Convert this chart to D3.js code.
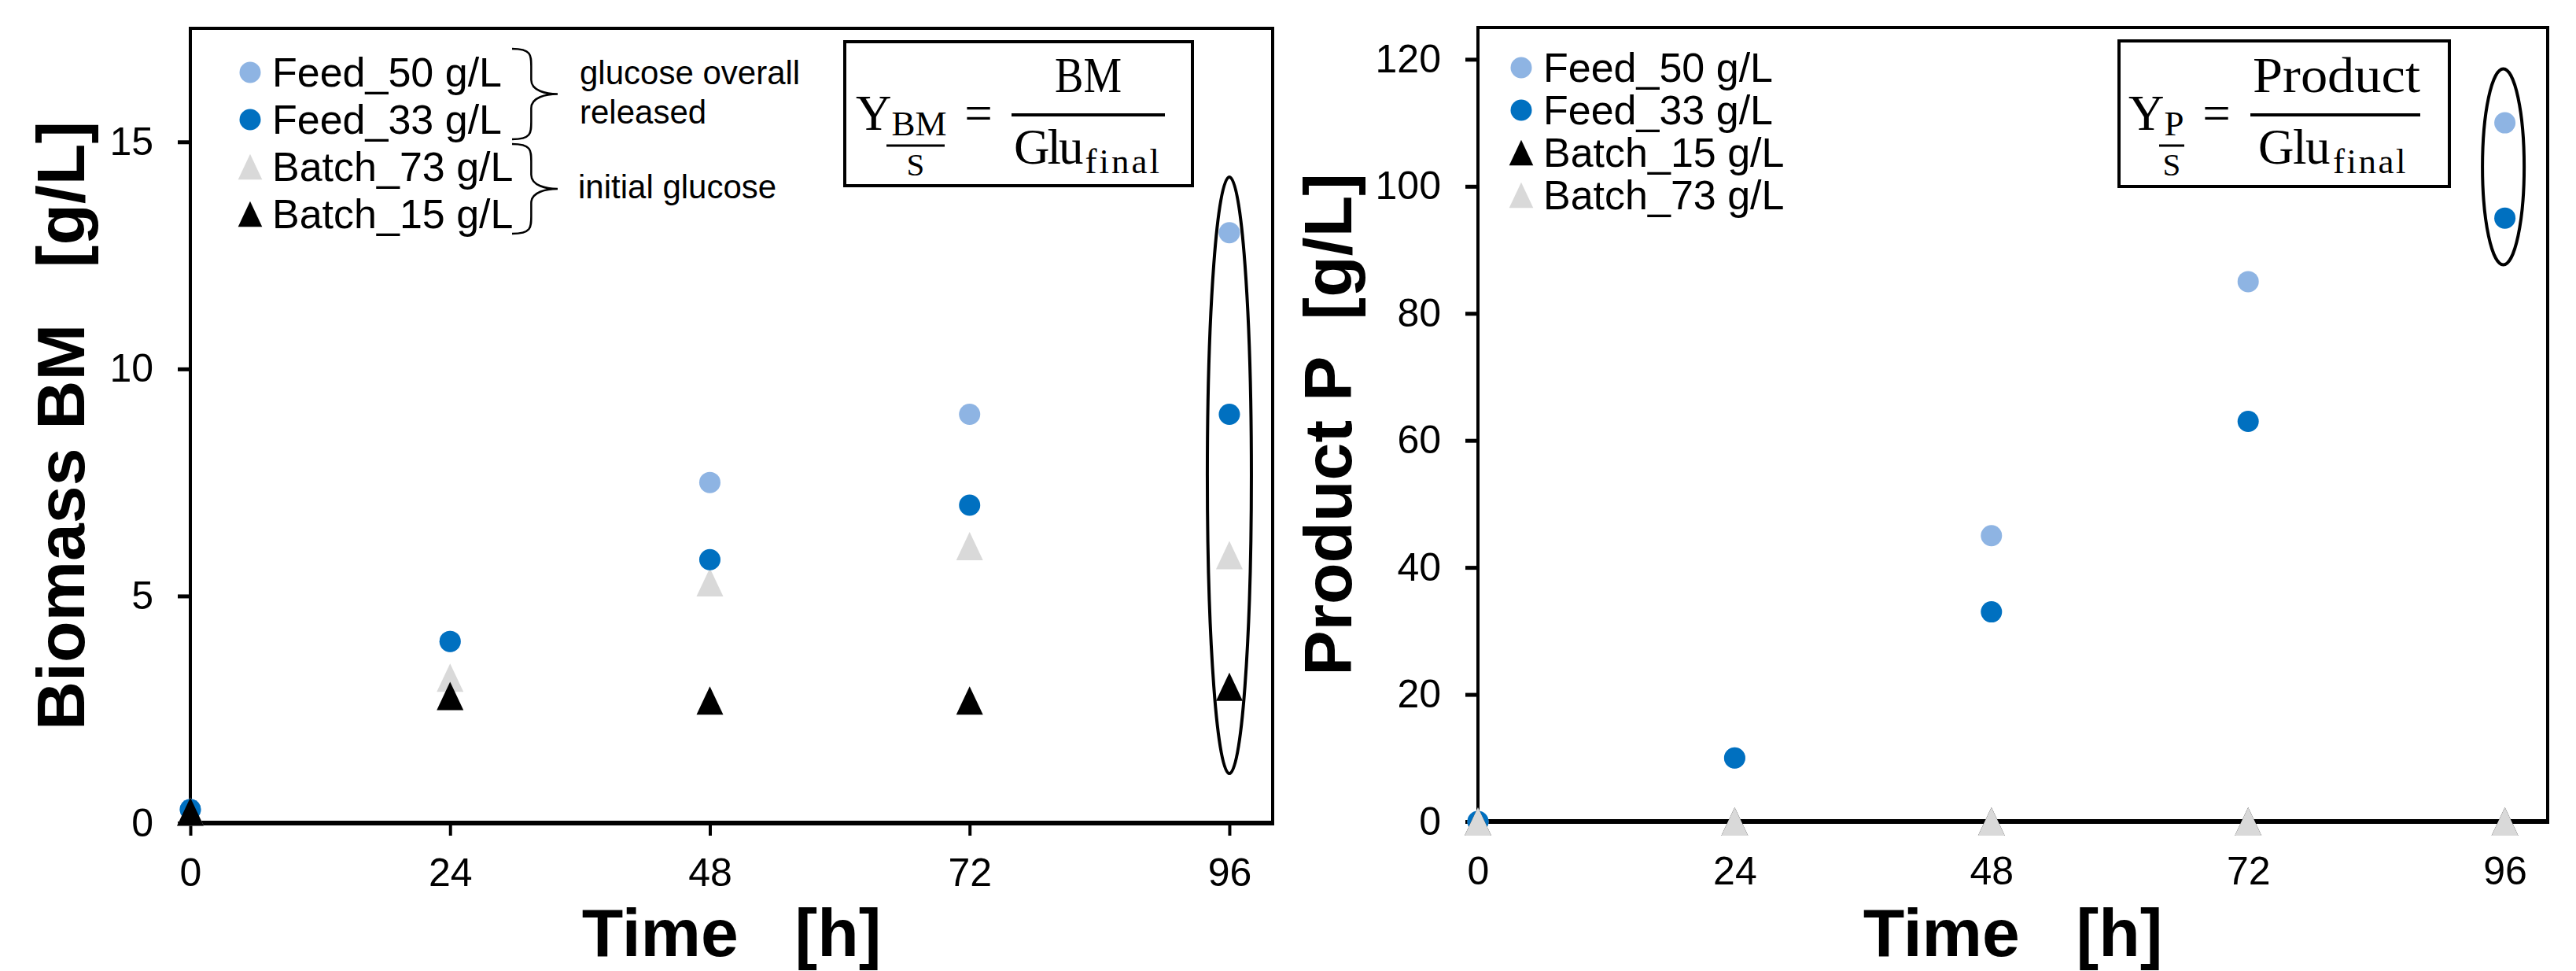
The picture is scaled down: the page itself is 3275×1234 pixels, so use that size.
<!DOCTYPE html>
<html lang="en">
<head>
  <meta charset="UTF-8">
  <title>Biomass and Product over Time</title>
  <script src="https://d3js.org/d3.v7.min.js"></script>
  <style>
    body { margin: 0; background: #fff; }
    text { font-family: Arial, "Liberation Sans", sans-serif; fill: #000; }
    .formula text { font-family: "Liberation Serif", "Times New Roman", serif; }
  </style>
</head>
<body>
<div id="chart"></div>
<script>

// sampling times [h]
var times = [0, 24, 48, 72, 96];

// biomass BM [g/L]
var bmFeed50  = [0.3, 4.0, 7.5, 9.0, 13.0];
var bmFeed33  = [0.3, 4.0, 5.8, 7.0, 9.0];
var bmBatch73 = [0.25, 3.2, 5.3, 6.1, 5.9];
var bmBatch15 = [0.25, 2.8, 2.7, 2.7, 3.0];

// product P [g/L]
var pFeed50  = [0, 10, 45, 85, 110];
var pFeed33  = [0, 10, 33, 63, 95];
var pBatch15 = [0, 0, 0, 0, 0];
var pBatch73 = [0, 0, 0, 0, 0];

// tick labels
var xTicks  = [0, 24, 48, 72, 96];
var bmTicks = [0, 5, 10, 15];
var pTicks  = [0, 20, 40, 60, 80, 100, 120];

// legend order per panel
var bmLegend = ["Feed_50 g/L", "Feed_33 g/L", "Batch_73 g/L", "Batch_15 g/L"];
var pLegend  = ["Feed_50 g/L", "Feed_33 g/L", "Batch_15 g/L", "Batch_73 g/L"];

// marker look per series
var look = {
  "Feed_50 g/L":  { color: "#8EB4E3", shape: "circle" },
  "Feed_33 g/L":  { color: "#0070C0", shape: "circle" },
  "Batch_73 g/L": { color: "#D9D9D9", shape: "triangle" },
  "Batch_15 g/L": { color: "#000000", shape: "triangle" }
};

var svg = d3.select("#chart")
  .append("svg")
    .attr("width", 3275)
    .attr("height", 1234);

function addMarker(g, name, cx, cy, s) {
  s = s || 1;
  var l = look[name];
  if (l.shape === "circle") {
    g.append("circle")
      .attr("cx", cx).attr("cy", cy).attr("r", 13.5 * s)
      .attr("fill", l.color);
  } else {
    g.append("path")
      .attr("d", "M0,-18L17,18L-17,18Z")
      .attr("transform", "translate(" + cx + "," + cy + ") scale(" + s + ")")
      .attr("fill", l.color);
  }
}

function panel(p) {
  var x = d3.scaleLinear().domain([0, 100]).range([p.left, p.left + p.width]);
  var y = d3.scaleLinear().domain([0, p.yMax]).range([p.top + p.height, p.top]);
  var g = svg.append("g");

  // y axis
  var ya = g.append("g")
    .attr("transform", "translate(" + p.left + ",0)")
    .call(d3.axisLeft(y).tickValues(p.yTicks).tickSize(16).tickSizeOuter(0).tickPadding(31));
  ya.select(".domain").remove();
  ya.selectAll("line").attr("stroke", "#000").attr("stroke-width", 5);
  ya.selectAll("text").attr("font-size", 50).attr("font-family", "Arial, 'Liberation Sans', sans-serif");

  // x axis
  var xa = g.append("g")
    .attr("transform", "translate(0," + (p.top + p.height) + ")")
    .call(d3.axisBottom(x).tickValues(xTicks).tickSize(16).tickSizeOuter(0).tickPadding(28));
  xa.select(".domain").remove();
  xa.selectAll("line").attr("stroke", "#000").attr("stroke-width", 4);
  xa.selectAll("text").attr("font-size", 50).attr("font-family", "Arial, 'Liberation Sans', sans-serif");

  // frame
  g.append("rect")
    .attr("x", p.left).attr("y", p.top)
    .attr("width", p.width).attr("height", p.height)
    .attr("fill", "none").attr("stroke", "#000").attr("stroke-width", 4);
  g.append("line")
    .attr("x1", p.left - 2).attr("x2", p.left + p.width + 2)
    .attr("y1", p.top + p.height).attr("y2", p.top + p.height)
    .attr("stroke", "#000").attr("stroke-width", 6);

  // titles
  g.append("text")
    .attr("x", p.left + p.width / 2).attr("y", 1215)
    .attr("text-anchor", "middle")
    .attr("font-size", 86).attr("font-weight", "bold")
    .style("white-space", "pre")
    .text("Time   [h]");
  g.append("text")
    .attr("transform", "translate(" + p.yTitleX + "," + (p.top + p.height / 2) + ") rotate(-90)")
    .attr("text-anchor", "middle")
    .attr("font-size", 86).attr("font-weight", "bold")
    .style("white-space", "pre")
    .text(p.yTitle);

  // points
  p.series.forEach(function (s) {
    times.forEach(function (t, i) {
      addMarker(g, s.name, x(t), y(s.values[i]));
    });
  });

  // legend
  p.legend.forEach(function (name, i) {
    var cy = p.legendTop + i * p.legendStep;
    addMarker(g, name, p.legendX, cy, look[name].shape === "triangle" ? 0.9 : 1);
    g.append("text")
      .attr("x", p.legendX + 28).attr("y", cy + 18)
      .attr("font-size", 52)
      .text(name);
  });

  return { g: g, x: x, y: y };
}

var left = panel({
  left: 242, top: 36, width: 1376, height: 1010,
  yMax: 17.5, yTicks: bmTicks,
  yTitle: "Biomass BM   [g/L]", yTitleX: 107,
  series: [
    { name: "Feed_50 g/L",  values: bmFeed50 },
    { name: "Batch_73 g/L", values: bmBatch73 },
    { name: "Feed_33 g/L",  values: bmFeed33 },
    { name: "Batch_15 g/L", values: bmBatch15 }
  ],
  legend: bmLegend, legendX: 318, legendTop: 92, legendStep: 60
});

var right = panel({
  left: 1879, top: 35, width: 1360, height: 1009,
  yMax: 125, yTicks: pTicks,
  yTitle: "Product P  [g/L]", yTitleX: 1718,
  series: [
    { name: "Feed_50 g/L",  values: pFeed50 },
    { name: "Feed_33 g/L",  values: pFeed33 },
    { name: "Batch_15 g/L", values: pBatch15 },
    { name: "Batch_73 g/L", values: pBatch73 }
  ],
  legend: pLegend, legendX: 1934, legendTop: 86, legendStep: 54
});

// braces next to the left legend
function brace(g, x0, y0, y1, w) {
  var ym = (y0 + y1) / 2, q = w * 0.42;
  var d = "M" + x0 + "," + y0 +
    " C" + (x0 + q) + "," + y0 + " " + (x0 + q) + "," + (y0 + 8) + " " + (x0 + q) + "," + (y0 + 22) +
    " L" + (x0 + q) + "," + (ym - 18) +
    " C" + (x0 + q) + "," + (ym - 4) + " " + (x0 + w * 0.75) + "," + ym + " " + (x0 + w) + "," + ym +
    " C" + (x0 + w * 0.75) + "," + ym + " " + (x0 + q) + "," + (ym + 4) + " " + (x0 + q) + "," + (ym + 18) +
    " L" + (x0 + q) + "," + (y1 - 22) +
    " C" + (x0 + q) + "," + (y1 - 8) + " " + (x0 + q) + "," + y1 + " " + x0 + "," + y1;
  g.append("path").attr("d", d).attr("fill", "none").attr("stroke", "#000").attr("stroke-width", 2.5);
}
brace(left.g, 651, 62, 177, 58);
brace(left.g, 651, 183, 297, 58);
left.g.append("text").attr("x", 737).attr("y", 107).attr("font-size", 42).text("glucose overall");
left.g.append("text").attr("x", 737).attr("y", 157).attr("font-size", 42).text("released");
left.g.append("text").attr("x", 735).attr("y", 252).attr("font-size", 42).text("initial glucose");

// ellipses around the final values
left.g.append("ellipse")
  .attr("cx", left.x(96)).attr("cy", 604).attr("rx", 28).attr("ry", 379)
  .attr("fill", "none").attr("stroke", "#000").attr("stroke-width", 4);
right.g.append("ellipse")
  .attr("cx", right.x(96) - 2).attr("cy", 212).attr("rx", 26.5).attr("ry", 124.5)
  .attr("fill", "none").attr("stroke", "#000").attr("stroke-width", 4);

// yield formulas
function formula(f) {
  var g = svg.append("g").attr("class", "formula");
  g.append("rect")
    .attr("x", f.box[0]).attr("y", f.box[1])
    .attr("width", f.box[2] - f.box[0]).attr("height", f.box[3] - f.box[1])
    .attr("fill", "#fff").attr("stroke", "#000").attr("stroke-width", 4);

  // Y with subscript in one text run
  var yt = g.append("text").attr("x", f.yX).attr("y", 165).attr("font-size", 63);
  yt.append("tspan").text("Y");
  yt.append("tspan").attr("dy", 7).attr("font-size", 45).text(f.sub);

  g.append("line").attr("x1", f.sBar[0]).attr("x2", f.sBar[1]).attr("y1", 185).attr("y2", 185)
    .attr("stroke", "#000").attr("stroke-width", 3);
  g.append("text").attr("x", (f.sBar[0] + f.sBar[1]) / 2).attr("y", 223)
    .attr("text-anchor", "middle").attr("font-size", 41).text("S");
  g.append("text").attr("x", f.eqX).attr("y", 165)
    .attr("text-anchor", "middle").attr("font-size", 63).text("=");
  g.append("line").attr("x1", f.bar[0]).attr("x2", f.bar[1]).attr("y1", 146).attr("y2", 146)
    .attr("stroke", "#000").attr("stroke-width", 4);
  g.append("text").attr("x", f.numX).attr("y", 117).attr("font-size", 63)
    .attr("textLength", f.numW).attr("lengthAdjust", "spacingAndGlyphs").text(f.num);

  // Glu with subscript "final"
  var gt = g.append("text").attr("x", f.gluX).attr("y", 208).attr("font-size", 63);
  gt.append("tspan").attr("letter-spacing", f.gluLs).text("Glu");
  gt.append("tspan").attr("dx", f.finDx).attr("dy", 12).attr("font-size", 45)
    .attr("letter-spacing", f.finLs).text("final");
}

formula({
  box: [1074, 53, 1516, 236],
  yX: 1088, sub: "BM", sBar: [1127, 1201],
  eqX: 1244, bar: [1286, 1481],
  num: "BM", numX: 1341, numW: 85,
  gluX: 1289, gluLs: -3, finDx: 5, finLs: 3
});

formula({
  box: [2694, 52, 3114, 237],
  yX: 2706, sub: "P", sBar: [2745, 2777],
  eqX: 2818, bar: [2861, 3077],
  num: "Product", numX: 2864, numW: 213,
  gluX: 2871, gluLs: -1.5, finDx: 5, finLs: 2.5
});

</script>
</body>
</html>
